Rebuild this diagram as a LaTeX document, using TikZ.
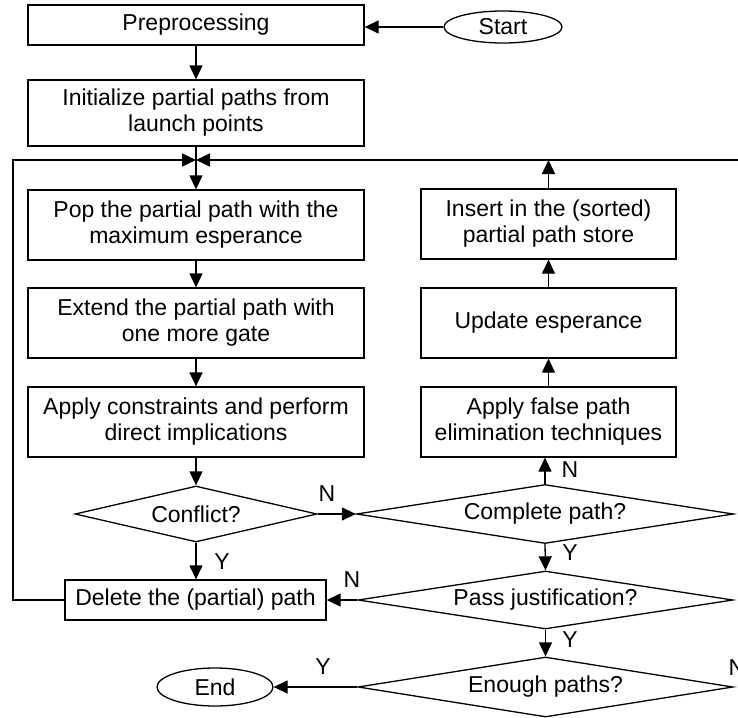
\documentclass[tikz,border=0pt]{standalone}
\usepackage{fontspec}
\setmainfont{Liberation Sans}
\usetikzlibrary{arrows.meta,shapes.geometric}
\tikzstyle{box} = [draw, rectangle, align=center, inner sep=0pt]
\tikzstyle{decision} = [draw, diamond, inner sep=0pt, shape aspect=6]
\tikzstyle{term} = [draw, ellipse, inner sep=0pt]
\tikzstyle{arrow} = [-{Triangle[length=14pt,width=13pt]}]
\tikzstyle{yn} = [inner sep=0pt]

\begin{document}
\begin{tikzpicture}[x=1pt, y=-1pt, line width=1.3pt,
                    font=\fontsize{23}{26}\selectfont]
                    \useasboundingbox (0,0) rectangle (738,717);
                    % left column
                    \node[box, minimum width=336pt, minimum height=40pt] (pre) at (196,25) {Preprocessing};
                    \node[term, minimum width=118pt, minimum height=32pt] (start) at (503,27) {Start};
                    \node[box, minimum width=336pt, minimum height=66pt] (init) at (196,113) {Initialize partial paths from\\launch points};
                    \node[box, minimum width=336pt, minimum height=70pt] (pop) at (196,225) {Pop the partial path with the\\maximum esperance};
                    \node[box, minimum width=336pt, minimum height=70pt] (ext) at (196,323) {Extend the partial path with\\one more gate};
                    \node[box, minimum width=336pt, minimum height=70pt] (cons) at (196,422) {Apply constraints and perform\\direct implications};
                    \node[decision, minimum width=242pt, minimum height=56pt] (conf) at (196,514) {Conflict?};
                    \node[box, minimum width=261pt, minimum height=40pt] (del) at (195.5,600) {Delete the (partial) path};
                    \node[term, minimum width=116pt, minimum height=38pt] (end) at (215,687) {End};
                    % right column
                    \node[box, minimum width=255pt, minimum height=70pt] (ins) at (548.5,224) {Insert in the (sorted)\\partial path store};
                    \node[box, minimum width=255pt, minimum height=70pt] (upd) at (548.5,323) {Update esperance};
                    \node[box, minimum width=255pt, minimum height=70pt] (fp) at (548.5,422) {Apply false path\\elimination techniques};
                    \node[decision, minimum width=377pt, minimum height=59pt] (comp) at (545,514) {Complete path?};
                    \node[decision, minimum width=375pt, minimum height=58pt] (pass) at (545.5,600) {Pass justification?};
                    \node[decision, minimum width=375pt, minimum height=60pt] (enough) at (545.5,687) {Enough paths?};

                    \coordinate (join) at (196,160);
                    \coordinate (loopl) at (13,160);
                    \coordinate (loopr) at (738,160);

                    \draw[arrow] (start.west) -- (start.west -| pre.east);
                    \draw[arrow] (pre) -- (init);
                    \draw[arrow] (init) -- (pop);
                    \draw[arrow] (pop) -- (ext);
                    \draw[arrow] (ext) -- (cons);
                    \draw[arrow] (cons) -- (conf);
                    \draw[arrow] (conf.east) -- (comp.west);
                    \draw[arrow] (conf.south) -- (conf.south |- del.north);
                    \draw[arrow] (del.west) -| (loopl) -- (join);
                    \draw[arrow] (loopr) -- (join);
                    \draw[arrow] (comp.north) -- (comp.north |- fp.south);
                    \draw[arrow] (fp) -- (upd);
                    \draw[arrow] (upd) -- (ins);
                    \draw[arrow] (ins.north) -- (ins.north |- join);
                    \draw[arrow] (comp.south) -- (pass.north);
                    \draw[arrow] (pass.west) -- (del.east);
                    \draw[arrow] (pass.south) -- (enough.north);
                    \draw[arrow] (enough.west) -- (end.east);

                    \node[yn] (n1) at (327,494) {N};
                    \node[yn] (y1) at (222,562) {Y};
                    \node[yn] (n2) at (570,470) {N};
                    \node[yn] (y2) at (570,553) {Y};
                    \node[yn] (n3) at (352,580) {N};
                    \node[yn] (y3) at (570,640) {Y};
                    \node[yn] (y4) at (323,667) {Y};
                    \node[yn] (n4) at (737,668) {N};
                \end{tikzpicture}
\end{document}
